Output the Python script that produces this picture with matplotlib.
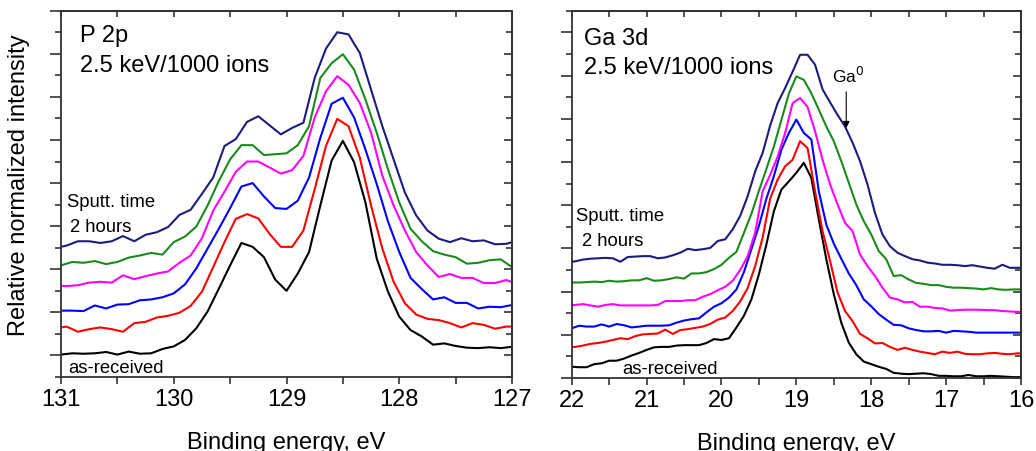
import numpy as np
import matplotlib
matplotlib.use("Agg")
import matplotlib.pyplot as plt
from matplotlib.ticker import MultipleLocator

plt.rcParams['font.family'] = ['Liberation Sans', 'DejaVu Sans']

# ---------------- data ----------------
# P 2p panel: two energy grids (0.1 eV step, one shifted by 0.05 eV)
p_energy_a = np.round(np.arange(131.0, 126.95, -0.1), 2)      # 41 points
p_energy_b = np.round(np.arange(131.05, 126.90, -0.1), 2)     # 42 points

p_as_received = [2, 5, 4, 5, 8, 2, 9, 4, 5, 15, 21, 36, 63, 102, 155, 209, 261, 252, 228, 176,
                 150, 190, 240, 348, 452, 498, 448, 355, 225, 148, 90, 59, 44, 25, 28, 22, 18, 17, 19, 17, 20]
p_red = [63, 67, 55, 61, 65, 61, 55, 75, 78, 88, 92, 99, 115, 148, 205, 263, 317, 328, 318, 282,
         252, 252, 290, 386, 486, 549, 532, 459, 348, 248, 171, 121, 95, 85, 82, 75, 65, 75, 71, 62, 67, 67]
p_blue = [104, 104, 103, 116, 109, 118, 119, 128, 130, 135, 144, 165, 202, 248, 294, 342, 392, 400, 369, 342,
          340, 359, 413, 505, 584, 598, 552, 478, 398, 311, 240, 180, 154, 130, 135, 122, 122, 109, 113, 112, 117]
p_magenta = [162, 161, 163, 169, 171, 169, 186, 177, 184, 190, 195, 215, 232, 272, 336, 380, 426, 450, 450, 436,
             422, 430, 463, 552, 613, 648, 628, 586, 517, 417, 348, 290, 240, 209, 182, 189, 180, 180, 168, 168, 175, 165]
p_green = [209, 217, 215, 219, 212, 217, 227, 232, 238, 234, 263, 276, 299, 348, 405, 455, 488, 488, 465, 467,
           469, 488, 532, 644, 678, 699, 663, 594, 517, 432, 355, 294, 265, 242, 234, 228, 213, 215, 221, 223, 205]
p_2hours = [249, 255, 265, 265, 261, 265, 277, 265, 280, 286, 298, 326, 338, 375, 413, 486, 502, 542, 555, 534,
            513, 528, 540, 644, 712, 750, 745, 702, 617, 532, 455, 378, 325, 290, 271, 263, 272, 265, 267, 258, 259, 267]

# Ga 3d panel
g_energy_a = np.round(np.arange(22.0, 15.95, -0.1), 2)        # 61 points
g_energy_b = np.round(np.arange(22.05, 15.90, -0.1), 2)       # 62 points

g_as_received = [26, 25, 25, 32, 34, 40, 40, 45, 52, 58, 65, 71, 72, 72, 75, 76, 76, 76, 81, 90,
                 88, 92, 117, 144, 182, 240, 309, 386, 436, 455, 475, 498, 463, 367, 275, 194, 128, 82, 55, 38,
                 32, 26, 21, 12, 10, 9, 10, 11, 9, 5, 5, 4, 4, 7, 4, 4, 5, 4, 3, 2, 2]
g_red = [71, 72, 75, 79, 81, 84, 88, 92, 90, 97, 101, 102, 103, 112, 102, 111, 113, 116, 119, 125,
         135, 140, 155, 177, 208, 259, 325, 415, 459, 490, 505, 548, 532, 432, 340, 271, 198, 155, 132, 102,
         92, 80, 81, 72, 65, 70, 65, 61, 58, 55, 61, 58, 61, 56, 55, 55, 57, 58, 56, 55, 57, 57]
g_blue = [115, 121, 119, 119, 124, 119, 125, 122, 117, 119, 121, 121, 121, 122, 128, 133, 136, 138, 152, 165,
          173, 186, 205, 245, 298, 352, 415, 467, 528, 567, 598, 567, 552, 432, 355, 311, 276, 242, 215, 182,
          166, 148, 135, 123, 122, 115, 111, 108, 108, 109, 105, 109, 108, 107, 105, 105, 105, 105, 105, 105, 105]
g_magenta = [168, 169, 171, 168, 165, 169, 171, 168, 168, 168, 168, 168, 169, 178, 178, 178, 180, 180, 188, 194,
             203, 211, 225, 250, 282, 336, 432, 470, 512, 567, 636, 648, 627, 571, 505, 448, 402, 359, 340, 286,
             259, 236, 209, 186, 182, 175, 176, 165, 165, 162, 161, 156, 157, 158, 158, 158, 157, 157, 155, 154, 153, 153]
g_green = [221, 221, 222, 223, 222, 225, 223, 224, 226, 226, 231, 225, 226, 229, 233, 230, 242, 242, 245, 252,
           262, 278, 292, 336, 380, 433, 484, 536, 597, 658, 698, 690, 659, 621, 582, 548, 502, 452, 402, 363,
           332, 294, 275, 236, 238, 228, 220, 218, 215, 215, 211, 209, 209, 208, 207, 205, 208, 205, 204, 205, 205]
g_2hours = [268, 270, 274, 276, 277, 278, 277, 269, 280, 281, 282, 282, 277, 279, 284, 290, 299, 296, 298, 301,
            317, 321, 344, 375, 421, 478, 521, 584, 636, 671, 709, 748, 748, 725, 668, 638, 609, 582, 545, 502,
            448, 382, 332, 305, 290, 282, 275, 272, 267, 265, 262, 262, 261, 259, 261, 258, 255, 253, 262, 255, 255, 255]

colors = ['black', '#ff0000', '#0000ff', '#ff00ff', '#1b8a1b', '#1c1c7c']

# ---------------- figure ----------------
W, H = 1036, 452
fig = plt.figure(figsize=(W / 100, H / 100), dpi=100)

def px_axes(x0, x1, ytop, ybot):
    return fig.add_axes([x0 / W, (H - ybot) / H, (x1 - x0) / W, (ybot - ytop) / H])

axL = px_axes(61, 512, 11.7, 378)
axR = px_axes(571.7, 1021, 11.7, 379)

spine_col = '#333333'
FS = 17

def style(ax, xlim, ylim, xmaj):
    ax.set_xlim(*xlim)
    ax.set_ylim(*ylim)
    ax.xaxis.set_major_locator(MultipleLocator(xmaj))
    ax.xaxis.set_minor_locator(MultipleLocator(xmaj / 2))
    ax.yaxis.set_major_locator(MultipleLocator(100))
    ax.yaxis.set_minor_locator(MultipleLocator(50))
    for s in ax.spines.values():
        s.set_color(spine_col)
        s.set_linewidth(1.3)
    ax.tick_params(axis='y', which='major', direction='out', length=8, width=1.2,
                   color=spine_col, labelleft=False)
    ax.tick_params(axis='y', which='minor', direction='out', length=4, width=1.2, color=spine_col)
    ax.tick_params(axis='x', which='both', direction='out', length=5, width=1.2,
                   color=spine_col, labelsize=FS, pad=3)
    # mirrored inward ticks on right and top
    sy = ax.secondary_yaxis('right')
    sy.yaxis.set_major_locator(MultipleLocator(100))
    sy.yaxis.set_minor_locator(MultipleLocator(50))
    sy.tick_params(axis='y', which='major', direction='in', length=6, width=1.2,
                   color=spine_col, labelright=False)
    sy.tick_params(axis='y', which='minor', direction='in', length=4, width=1.2, color=spine_col)
    sy.spines['right'].set_color(spine_col)
    sy.spines['right'].set_linewidth(1.3)
    sx = ax.secondary_xaxis('top')
    sx.xaxis.set_major_locator(MultipleLocator(xmaj))
    sx.xaxis.set_minor_locator(MultipleLocator(xmaj / 2))
    sx.tick_params(axis='x', which='both', direction='in', length=4, width=1.2,
                   color=spine_col, labeltop=False)
    sx.spines['top'].set_color(spine_col)
    sx.spines['top'].set_linewidth(1.3)
    ax.set_xlabel('Binding energy, eV', fontsize=FS, labelpad=15)

lw = 1.5
# P 2p
p_series = [(p_energy_a, p_as_received), (p_energy_b, p_red), (p_energy_a, p_blue),
            (p_energy_b, p_magenta), (p_energy_a, p_green), (p_energy_b, p_2hours)]
for (x, y), c in zip(p_series, colors):
    axL.plot(x, y, color=c, lw=lw)
style(axL, (131, 127), (-50, 800), 1)
axL.xaxis.set_major_formatter(matplotlib.ticker.FormatStrFormatter('%d'))

# Ga 3d
g_series = [(g_energy_a, g_as_received), (g_energy_b, g_red), (g_energy_a, g_blue),
            (g_energy_b, g_magenta), (g_energy_a, g_green), (g_energy_b, g_2hours)]
for (x, y), c in zip(g_series, colors):
    axR.plot(x, y, color=c, lw=lw)
style(axR, (22, 16), (0, 850), 1)
axR.xaxis.set_major_formatter(matplotlib.ticker.FormatStrFormatter('%d'))

# y label
fig.text(19 / W, (H - 185) / H, 'Relative normalized intensity', rotation=90,
         fontsize=FS, ha='center', va='center')

# annotations (left)
tk = dict(transform=axL.transAxes, va='baseline', ha='left')
axL.text(0.042, 0.918, 'P 2p', fontsize=FS, **tk)
axL.text(0.042, 0.836, '2.5 keV/1000 ions', fontsize=FS, **tk)
axL.text(0.013, 0.467, 'Sputt. time', fontsize=13.3, **tk)
axL.text(0.020, 0.399, '2 hours', fontsize=13.3, **tk)
axL.text(0.0155, 0.0137, 'as-received', fontsize=13.3, **tk)

# annotations (right)
tk = dict(transform=axR.transAxes, va='baseline', ha='left')
axR.text(0.027, 0.909, 'Ga 3d', fontsize=FS, **tk)
axR.text(0.027, 0.830, '2.5 keV/1000 ions', fontsize=FS, **tk)
axR.text(0.0096, 0.431, 'Sputt. time', fontsize=13.3, **tk)
axR.text(0.022, 0.362, '2 hours', fontsize=13.3, **tk)
axR.text(0.112, 0.0136, 'as-received', fontsize=13.3, **tk)
axR.text(0.615, 0.806, 'Ga$^0$', fontsize=12.5, transform=axR.transAxes,
         ha='center', va='baseline')
axR.annotate('', xy=(0.611, 0.680), xytext=(0.611, 0.779), xycoords='axes fraction',
             arrowprops=dict(arrowstyle='-|>', color='black', lw=0.8,
                             mutation_scale=10, shrinkA=0, shrinkB=0))

fig.savefig('out.png', dpi=100)
